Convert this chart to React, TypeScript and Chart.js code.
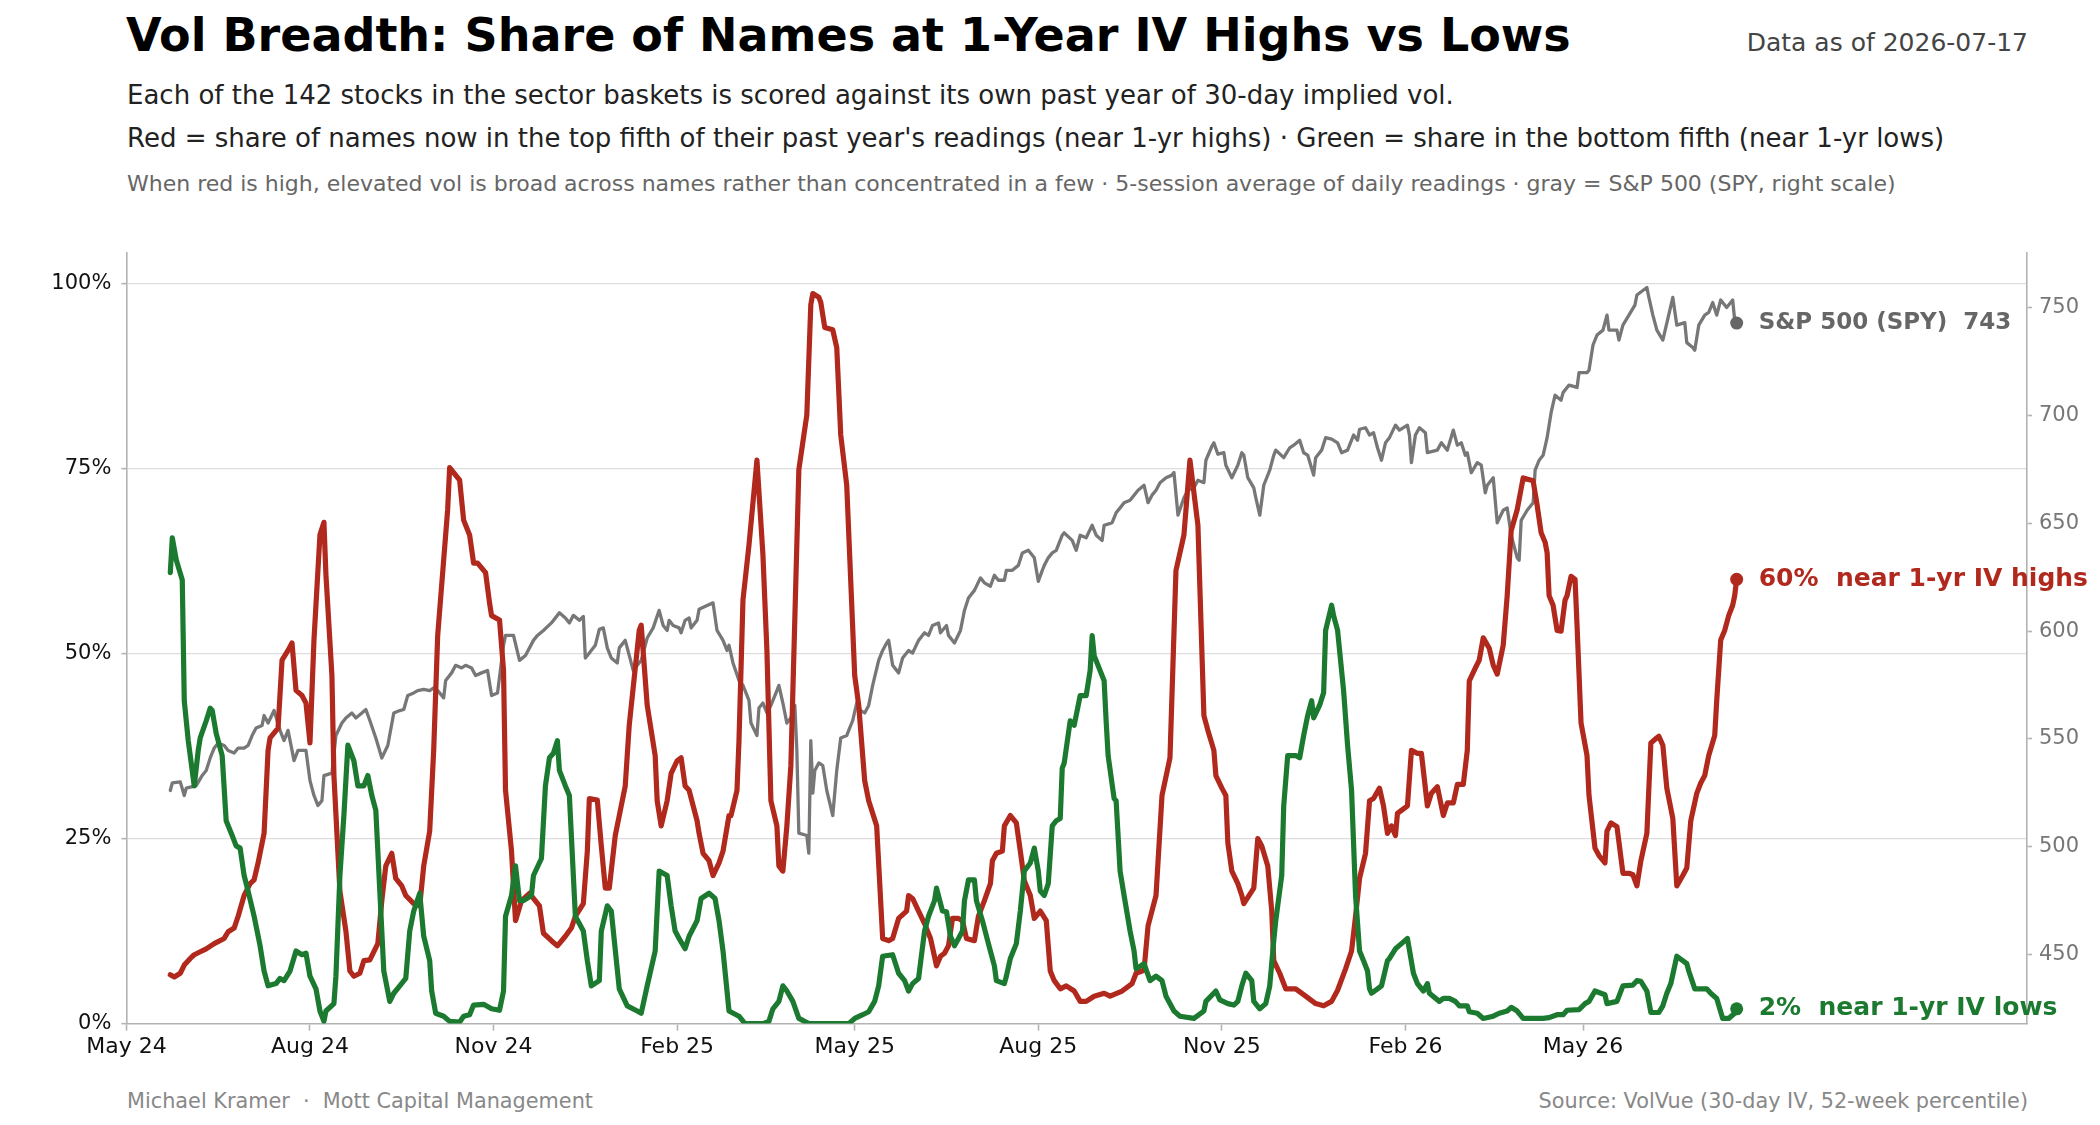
import React, { useEffect, useRef } from 'react';
import { Chart, registerables } from 'chart.js';

Chart.register(...registerables);

const FONT = '"DejaVu Sans", Verdana, sans-serif';
Chart.defaults.font.family = FONT;

const RED = '#b1281d';
const GREEN = '#1b7a2f';
const GRAY = '#777777';
const GRAY_TEXT = '#666666';
const AXIS = '#b3b3b3';
const GRID = '#dddddd';

// x = days since 2024-05-01
const monthTickDays = [0, 92, 184, 276, 365, 457, 549, 641, 730];
const monthTickLabels = ['May 24', 'Aug 24', 'Nov 24', 'Feb 25', 'May 25', 'Aug 25', 'Nov 25', 'Feb 26', 'May 26'];
const pctTicks = [0, 25, 50, 75, 100];
const spyTicks = [450, 500, 550, 600, 650, 700, 750];

// share of names near 1-yr IV highs (%), 5-session avg
const highsShare: [number, number][] = [
  [22, 6.6], [24, 6.3], [27, 6.8], [29, 7.9], [32, 8.8], [34, 9.3], [37, 9.7], [40, 10.1], [44, 10.8],
  [49, 11.5], [51, 12.4], [54, 12.9], [56, 14.5], [59, 17.3], [62, 18.9], [64, 19.4], [66, 21.7],
  [69, 25.7], [71, 36.9], [72, 38.6], [76, 39.9], [78, 49.1], [81, 50.4], [83, 51.4], [85, 45],
  [88, 44.3], [90, 43.3], [92, 37.9], [94, 51.8], [97, 66], [99, 67.7], [100, 60.6], [103, 47],
  [104, 33.5], [107, 17.9], [110, 12.5], [112, 7.1], [114, 6.4], [117, 6.8], [119, 8.5], [122, 8.6],
  [126, 10.8], [128, 16.6], [130, 21.3], [133, 23], [135, 19.6], [138, 18.6], [140, 17.3], [144, 16.2],
  [147, 15.9], [149, 21.3], [152, 26], [154, 36.9], [156, 52.4], [159, 62.6], [161, 69.4], [162, 75.1],
  [167, 73.4], [169, 68], [172, 66], [174, 62.2], [176, 62.2], [180, 60.9], [182, 56.8], [183, 55.1],
  [187, 54.5], [189, 47.7], [190, 31.5], [193, 23.3], [195, 13.9], [198, 16.6], [202, 17.6], [207, 15.9],
  [209, 12.2], [213, 11.2], [216, 10.5], [220, 11.8], [223, 12.9], [225, 14.5], [229, 16.2], [231, 23.3],
  [232, 30.4], [236, 30.2], [238, 24], [240, 18.3], [242, 18.3], [245, 25.4], [250, 32.1], [252, 40.3],
  [257, 53.1], [258, 53.8], [261, 43], [265, 36.2], [266, 30.1], [268, 26.7], [271, 30.1], [273, 33.8],
  [276, 35.5], [278, 35.9], [280, 32.1], [282, 31.5], [286, 27.4], [287, 25.7], [289, 23], [292, 22],
  [294, 20], [297, 21.7], [299, 23.3], [302, 28.1], [303, 28.1], [306, 31.5], [307, 38.2], [309, 57.2],
  [312, 64.6], [316, 76.1], [319, 63.3], [321, 50.4], [323, 30.1], [326, 26.7], [327, 21.3], [329, 20.6],
  [331, 26.7], [333, 34.8], [337, 74.8], [341, 82.2], [343, 97.1], [344, 98.6], [347, 98.1], [348, 97.4],
  [350, 94], [354, 93.7], [356, 91.3], [358, 79.5], [361, 72.7], [365, 47], [367, 43], [370, 32.8],
  [372, 30.1], [376, 26.7], [379, 11.5], [382, 11.2], [384, 11.5], [387, 14.2], [391, 15.2], [392, 17.3],
  [394, 16.9], [397, 15.2], [400, 13.5], [403, 11.5], [406, 7.8], [408, 9.1], [410, 9.5], [412, 10.5],
  [414, 14.2], [417, 14.2], [419, 13.9], [421, 11.5], [425, 11.2], [427, 14.5], [430, 16.6], [433, 18.9],
  [434, 22], [436, 23], [439, 23.3], [440, 26.7], [443, 28.1], [446, 27.1], [448, 23.3], [450, 19.3],
  [453, 17.3], [455, 14.2], [458, 15.2], [461, 13.9], [463, 7.1], [465, 5.8], [468, 4.7], [471, 5.1],
  [475, 4.4], [478, 3], [481, 3], [485, 3.7], [490, 4.1], [493, 3.7], [499, 4.4], [504, 5.4], [506, 6.8],
  [510, 7.2], [512, 13.2], [516, 17.3], [519, 30.8], [523, 35.9], [526, 61.2], [530, 66], [533, 76.1],
  [537, 67.3], [540, 41.6], [542, 39.6], [545, 36.9], [546, 33.5], [549, 31.8], [551, 30.8], [552, 24.4],
  [554, 20.6], [557, 18.9], [559, 17.3], [560, 16.2], [565, 18.3], [567, 25], [569, 24], [572, 21.3],
  [574, 15.2], [575, 8.5], [578, 6.8], [581, 4.7], [586, 4.7], [591, 3.7], [596, 2.7], [600, 2.4],
  [604, 3], [607, 4.5], [611, 7.4], [614, 9.8], [616, 14.5], [618, 19.6], [621, 23], [623, 30.1],
  [625, 30.4], [628, 31.8], [630, 29.4], [632, 25.7], [634, 26.7], [636, 25.4], [637, 28.4], [642, 29.4],
  [644, 36.9], [647, 36.5], [649, 36.5], [652, 29.4], [654, 31.1], [657, 32], [660, 28.1], [662, 29.8],
  [665, 29.8], [667, 32.3], [670, 32.3], [672, 36.9], [673, 46.3], [676, 48], [678, 49.1], [680, 52.1],
  [683, 50.7], [685, 48.4], [687, 47.2], [690, 51.1], [692, 57.8], [694, 66.6], [697, 69.4], [700, 73.7],
  [705, 73.3], [707, 70], [709, 66.3], [711, 65], [712, 63.6], [713, 57.8], [715, 56.5], [717, 53.1],
  [719, 53], [721, 57.2], [722, 57.8], [724, 60.4], [726, 60], [727, 53.8], [729, 40.6], [732, 36.2],
  [733, 30.8], [736, 23.7], [738, 22.7], [741, 21.7], [742, 26], [744, 27.1], [747, 26.6], [750, 20.3],
  [753, 20.3], [755, 20.1], [757, 18.6], [759, 22], [762, 25.7], [764, 37.9], [767, 38.6], [768, 38.8],
  [770, 37.6], [772, 31.8], [775, 27.7], [777, 18.6], [780, 20], [782, 21], [784, 27.4], [787, 31.1],
  [789, 32.5], [791, 33.5], [793, 36.2], [796, 38.9], [797, 43.6], [799, 51.8], [801, 53.1], [803, 55.1],
  [805, 56.5], [806, 57.8], [807, 60],
];

// share of names near 1-yr IV lows (%), 5-session avg
const lowsShare: [number, number][] = [
  [22, 60.9], [23, 65.6], [25, 62.6], [28, 59.9], [29, 43.6], [31, 38.2], [34, 32.1], [36, 36.9],
  [37, 38.6], [40, 40.9], [42, 42.6], [43, 42.3], [45, 39.2], [48, 36.2], [50, 27.4], [53, 25.4],
  [55, 24], [57, 23.7], [59, 20], [61, 17.9], [64, 14.5], [67, 10.5], [69, 7.1], [71, 5.1], [75, 5.4],
  [77, 6.1], [79, 5.8], [82, 7.1], [85, 9.8], [88, 9.3], [90, 9.5], [92, 6.4], [95, 4.7], [97, 1.7],
  [99, 0.3], [100, 1.7], [104, 2.7], [105, 6.4], [107, 20], [109, 28.1], [111, 37.6], [114, 35.5],
  [116, 32.1], [119, 32.1], [121, 33.5], [123, 30.8], [125, 28.8], [127, 17.9], [129, 7.1], [132, 3],
  [134, 4.1], [137, 5.1], [140, 6.1], [142, 12.5], [144, 15.2], [147, 17.6], [149, 11.8], [152, 8.5],
  [153, 4.4], [155, 1.4], [159, 1], [162, 0.3], [167, 0.2], [169, 1], [172, 1.2], [174, 2.5], [179, 2.6],
  [183, 2], [187, 1.8], [189, 4.4], [190, 14.5], [193, 17.3], [195, 21.3], [197, 16.6], [199, 16.6],
  [203, 17.3], [204, 20], [208, 22.3], [210, 32.1], [212, 35.9], [214, 36.5], [216, 38.2], [217, 34.2],
  [220, 32.1], [222, 30.8], [225, 14.5], [229, 12.5], [231, 8.5], [233, 5.1], [237, 5.8], [238, 12.5],
  [241, 15.9], [243, 15.2], [247, 4.7], [251, 2.4], [256, 1.7], [258, 1.4], [261, 5.1], [265, 9.8],
  [267, 20.6], [271, 20], [273, 15.9], [275, 12.5], [277, 11.5], [280, 10.1], [282, 11.8], [286, 13.9],
  [288, 16.9], [292, 17.6], [295, 16.9], [297, 13.9], [299, 9.8], [302, 1.7], [307, 1], [310, 0],
  [319, 0], [322, 0.3], [324, 2], [327, 3], [329, 5.1], [331, 4.4], [334, 3], [337, 0.7], [342, 0],
  [362, 0], [365, 0.7], [369, 1.2], [372, 1.6], [375, 3], [377, 5.1], [379, 9.1], [384, 9.3], [387, 6.8],
  [390, 5.8], [392, 4.4], [394, 5.4], [397, 6.1], [400, 12.5], [402, 14.5], [405, 16.6], [406, 18.3],
  [409, 15.2], [411, 15.1], [413, 11.8], [415, 10.5], [417, 11.5], [419, 12.5], [420, 16.6], [422, 19.4],
  [425, 19.4], [426, 16.6], [429, 13.9], [432, 10.8], [435, 7.8], [436, 5.8], [440, 5.4], [441, 6.4],
  [443, 8.8], [446, 10.8], [448, 15.2], [450, 20.6], [453, 21.7], [455, 23.7], [457, 20.6], [458, 17.9],
  [460, 17.3], [462, 18.9], [464, 26.7], [466, 27.4], [468, 27.7], [469, 34.5], [470, 35.2], [473, 40.9],
  [475, 40.3], [478, 44.3], [481, 44.3], [483, 47.7], [484, 52.4], [485, 49.7], [490, 46.3], [491, 40.9],
  [492, 36.2], [495, 30.4], [496, 30.1], [498, 20.6], [500, 17.3], [503, 12.5], [505, 9.8], [506, 7.4],
  [510, 8.1], [513, 5.8], [516, 6.4], [519, 5.8], [521, 3.7], [525, 1.7], [528, 1], [535, 0.7], [540, 1.7],
  [541, 3], [546, 4.4], [548, 3.2], [552, 2.7], [555, 2.5], [557, 3], [559, 5.1], [561, 6.8], [564, 5.8],
  [565, 3], [568, 2], [571, 2.7], [573, 5.1], [575, 11.2], [576, 13.9], [579, 20], [580, 29.4], [582, 36.2],
  [586, 36.2], [588, 35.9], [590, 38.9], [592, 41.6], [594, 43.6], [595, 41.3], [598, 43], [600, 44.7],
  [601, 53.1], [604, 56.5], [605, 55.1], [607, 53.1], [610, 45], [612, 37.6], [614, 31.5], [616, 17.3],
  [618, 9.8], [620, 8.5], [622, 7.1], [623, 4.7], [624, 4.1], [627, 4.7], [629, 5.1], [632, 8.5], [633, 8.8],
  [636, 10.1], [639, 10.8], [642, 11.5], [645, 6.8], [647, 5.4], [650, 4.4], [652, 5.4], [653, 4.1],
  [658, 3], [660, 3.4], [663, 3.4], [666, 3], [668, 2.4], [672, 2.4], [673, 1.6], [677, 1.4], [680, 0.7],
  [685, 1], [688, 1.4], [692, 1.7], [694, 2.2], [697, 1.7], [700, 0.7], [703, 0.7], [710, 0.7], [713, 0.8],
  [717, 1.2], [720, 1.2], [722, 1.8], [728, 1.9], [731, 2.7], [733, 3], [736, 4.4], [741, 3.9], [742, 2.7],
  [747, 3], [750, 5.1], [755, 5.2], [757, 5.8], [759, 5.7], [762, 4.4], [764, 1.5], [768, 1.5], [770, 2.4],
  [772, 4.1], [774, 5.4], [777, 9.1], [782, 8.1], [783, 7.1], [786, 4.7], [792, 4.7], [794, 4.1], [797, 3.4],
  [800, 0.7], [803, 0.7], [806, 1.4], [807, 2],
];

// S&P 500 (SPY) close, right scale
const spyClose: [number, number][] = [
  [22, 526], [23, 529.5], [27, 530], [29, 523.7], [30, 527.1], [33, 527.8], [35, 528.3], [38, 533],
  [40, 535.3], [42, 541.1], [44, 545.7], [46, 548], [49, 546.9], [51, 544.6], [54, 543.4], [56, 545.7],
  [59, 545.7], [61, 546.9], [63, 551.5], [65, 555], [68, 556.2], [69, 560.8], [71, 557.3], [74, 563.1],
  [77, 553.9], [79, 549.2], [81, 553.9], [83, 544.6], [84, 539.9], [86, 544.6], [90, 544.6], [92, 530.6],
  [94, 523.7], [96, 519], [98, 521.3], [99, 532.9], [103, 534.1], [105, 551.5], [108, 557.3], [110, 559.7],
  [113, 562], [115, 559.7], [118, 562], [120, 563.6], [122, 558.5], [125, 550.4], [128, 541.1], [131, 546.9],
  [134, 562], [137, 563.1], [139, 563.6], [141, 570.1], [144, 571.3], [146, 572.4], [149, 572.9],
  [152, 572.4], [154, 573.6], [156, 572.4], [159, 569], [160, 577.1], [163, 580.6], [165, 584.1],
  [168, 582.9], [170, 584.1], [173, 582.9], [175, 579.4], [178, 580.6], [181, 581.7], [183, 570.1],
  [186, 571.3], [189, 593.4], [190, 598], [194, 598], [197, 586.4], [200, 588.7], [204, 595.7], [206, 598],
  [209, 600.3], [213, 603.8], [216, 607.3], [217, 608.5], [220, 606.1], [222, 603.8], [224, 607.3],
  [227, 605], [229, 606.8], [230, 587.5], [232, 589.8], [235, 593.4], [237, 600.8], [239, 601.5],
  [241, 592.2], [243, 587.5], [246, 585.2], [247, 592.2], [250, 595.7], [252, 588.7], [254, 581.7],
  [256, 584.1], [258, 586.4], [261, 596.8], [264, 601.5], [267, 609.6], [269, 602.6], [271, 600.3],
  [272, 605], [274, 602.6], [277, 601.5], [278, 599.2], [280, 605], [282, 606.1], [283, 601.5], [286, 605],
  [287, 610.1], [291, 611.9], [294, 613.1], [296, 600.3], [299, 595.7], [301, 591], [302, 593.4],
  [304, 585.2], [307, 577.1], [309, 574.8], [312, 567.8], [313, 557.3], [316, 551.5], [317, 564.3],
  [319, 566.6], [321, 562], [323, 565.5], [326, 572.4], [327, 574.8], [329, 566.6], [331, 557.3],
  [333, 559.7], [335, 565.5], [336, 544.6], [337, 506.2], [341, 505.1], [342, 496.9], [343, 549.2],
  [344, 524.8], [345, 535.3], [347, 538.8], [349, 537.6], [351, 526], [354, 514.4], [356, 535.3],
  [358, 550.4], [361, 551.5], [362, 553.9], [364, 558.5], [366, 566.6], [368, 563.1], [370, 562],
  [372, 565.5], [374, 574.8], [377, 586.4], [379, 591], [381, 594.5], [382, 595.7], [384, 584.1],
  [387, 580.6], [389, 587.5], [392, 591], [394, 589.8], [397, 595.7], [400, 599.2], [402, 598], [404, 602.6],
  [407, 603.8], [408, 599.2], [411, 602.6], [412, 598], [415, 594.5], [418, 600.3], [420, 609.6],
  [422, 615.4], [425, 618.9], [428, 624.7], [430, 622.4], [433, 620.8], [435, 625.9], [437, 623.6],
  [440, 623.6], [441, 628.2], [444, 628.2], [447, 630.5], [449, 636.3], [452, 637.5], [455, 634],
  [457, 623.1], [459, 628.2], [460, 630.5], [462, 634], [464, 636.3], [466, 637.5], [469, 644.5],
  [470, 645.6], [474, 642.1], [476, 637.5], [478, 644.5], [481, 643.3], [484, 649.1], [486, 644.5],
  [489, 642.1], [490, 649.1], [494, 650.3], [496, 654.9], [498, 657.2], [500, 659.6], [503, 660.7],
  [505, 663.1], [507, 665.4], [510, 667.7], [512, 659.6], [514, 663.1], [516, 665.4], [518, 668.9],
  [521, 671.2], [524, 672.4], [525, 673.6], [527, 653.8], [530, 661.9], [532, 665.4], [535, 666.5],
  [537, 670], [540, 668.9], [541, 679.3], [544, 685.8], [545, 687.4], [547, 682.1], [550, 682.8],
  [551, 677], [554, 671.2], [557, 677], [559, 682.8], [560, 681.7], [562, 671.2], [565, 666.5],
  [566, 661.9], [568, 653.8], [570, 667.7], [573, 674.7], [575, 681.6], [576, 684], [580, 680.5],
  [583, 685.1], [585, 686.3], [588, 688.6], [590, 682.8], [592, 681.7], [595, 672.4], [596, 680.5],
  [599, 684], [601, 689.8], [604, 689.1], [607, 687.4], [609, 682.8], [612, 684], [615, 691], [617, 688.6],
  [618, 693.7], [621, 694.4], [623, 691], [625, 692.1], [627, 685.1], [629, 679.3], [631, 687.4],
  [633, 689.8], [636, 695.6], [638, 693.3], [642, 695.6], [643, 691], [644, 678.2], [646, 691],
  [648, 694.4], [651, 692.1], [652, 682.8], [657, 684], [659, 687.4], [661, 685.1], [662, 684],
  [665, 693.3], [667, 686.3], [669, 687.4], [671, 681.6], [672, 682.8], [674, 673.5], [677, 678.2],
  [679, 677], [681, 664.2], [682, 667.7], [685, 671.2], [686, 660.7], [687, 650.3], [690, 656.1],
  [692, 657.2], [694, 644.5], [697, 634], [698, 632.9], [699, 651.4], [702, 656.1], [705, 659.6],
  [706, 674.7], [708, 679.3], [710, 681.6], [712, 689.8], [714, 701.4], [716, 709.5], [719, 707.2],
  [720, 710.7], [723, 714.2], [727, 713.1], [728, 720], [732, 720], [733, 721.1], [735, 732.8],
  [737, 737.4], [740, 739.7], [742, 746.7], [743, 739.7], [747, 739.7], [748, 735.1], [750, 742],
  [753, 746.7], [756, 751.3], [757, 756], [762, 759.5], [763, 754.9], [765, 746.7], [767, 739.7],
  [770, 735.1], [775, 754.9], [777, 742], [781, 743.2], [782, 733.9], [785, 731.6], [786, 730.4],
  [788, 742], [791, 746.7], [793, 747.9], [795, 752.5], [797, 746.7], [799, 753.7], [802, 750.2],
  [805, 753.7], [806, 744.4], [807, 743],
];

const toPoints = (rows: [number, number][]) => rows.map(([x, y]) => ({ x, y }));

// dot only on the latest reading
const lastDot = (rows: [number, number][]) => (c: any) => (c.dataIndex === rows.length - 1 ? 6.5 : 0);

// text next to each series' latest point
const endLabels = {
  id: 'endLabels',
  afterDatasetsDraw(chart: any) {
    const { ctx } = chart;
    ctx.save();
    ctx.textBaseline = 'middle';
    ctx.textAlign = 'left';
    chart.data.datasets.forEach((ds: any, i: number) => {
      const meta = chart.getDatasetMeta(i);
      const pt = meta.data[meta.data.length - 1];
      const last = ds.data[ds.data.length - 1].y;
      ctx.font = `bold ${ds.labelSize}px ${FONT}`;
      ctx.fillStyle = ds.labelColor;
      ctx.fillText(ds.endLabel(last), pt.x + 22, pt.y);
    });
    ctx.restore();
  },
};

const axisBorder = { display: true, color: AXIS, width: 1.6 };

const VolBreadthChart: React.FC = () => {
  const canvasRef = useRef<HTMLCanvasElement>(null);

  useEffect(() => {
    if (!canvasRef.current) return;
    const chart = new Chart(canvasRef.current, {
      type: 'line',
      data: {
        datasets: [
          {
            label: 'Near 1-yr IV lows',
            data: toPoints(lowsShare),
            yAxisID: 'y',
            borderColor: GREEN,
            backgroundColor: GREEN,
            borderWidth: 5.2,
            pointRadius: lastDot(lowsShare),
            pointBorderWidth: 0,
            order: 1,
            labelColor: GREEN,
            labelSize: 25,
            endLabel: (v: number) => `${Math.round(v)}%  near 1-yr IV lows`,
          } as any,
          {
            label: 'Near 1-yr IV highs',
            data: toPoints(highsShare),
            yAxisID: 'y',
            borderColor: RED,
            backgroundColor: RED,
            borderWidth: 5.2,
            pointRadius: lastDot(highsShare),
            pointBorderWidth: 0,
            order: 2,
            labelColor: RED,
            labelSize: 25,
            endLabel: (v: number) => `${Math.round(v)}%  near 1-yr IV highs`,
          } as any,
          {
            label: 'S&P 500 (SPY)',
            data: toPoints(spyClose),
            yAxisID: 'y2',
            borderColor: GRAY,
            backgroundColor: GRAY_TEXT,
            borderWidth: 3.3,
            pointRadius: lastDot(spyClose),
            pointBorderWidth: 0,
            order: 3,
            labelColor: GRAY_TEXT,
            labelSize: 23,
            endLabel: (v: number) => `S&P 500 (SPY)  ${Math.round(v)}`,
          } as any,
        ],
      },
      options: {
        responsive: false,
        animation: false,
        events: [],
        layout: { padding: { top: 52.8, left: 0, right: 0, bottom: 0 } },
        elements: { line: { tension: 0, borderJoinStyle: 'round', borderCapStyle: 'round' } },
        plugins: { legend: { display: false }, tooltip: { enabled: false } },
        scales: {
          x: {
            type: 'linear',
            min: 0,
            max: 952.5,
            afterBuildTicks: (s: any) => {
              s.ticks = monthTickDays.map((value) => ({ value }));
            },
            afterFit: (s: any) => {
              s.height = 56.4;
            },
            ticks: {
              autoSkip: false,
              maxRotation: 0,
              color: '#111',
              font: { size: 22 },
              padding: 3,
              callback: (v: any) => monthTickLabels[monthTickDays.indexOf(Number(v))] ?? '',
            },
            grid: { drawOnChartArea: false, tickLength: 7, tickColor: AXIS, tickWidth: 1.6 },
            border: axisBorder,
          },
          y: {
            type: 'linear',
            position: 'left',
            min: 0,
            max: 104.1,
            afterBuildTicks: (s: any) => {
              s.ticks = pctTicks.map((value) => ({ value }));
            },
            afterFit: (s: any) => {
              s.width = 126.4;
            },
            ticks: { color: '#111', font: { size: 21 }, padding: 10, callback: (v: any) => `${v}%` },
            grid: {
              color: (c: any) => (c.tick && c.tick.value === 0 ? 'rgba(0,0,0,0)' : GRID),
              lineWidth: 1.3,
              tickLength: 5,
              tickColor: AXIS,
              tickWidth: 1.6,
            },
            border: axisBorder,
          },
          y2: {
            type: 'linear',
            position: 'right',
            min: 417.8,
            max: 775.6,
            afterBuildTicks: (s: any) => {
              s.ticks = spyTicks.map((value) => ({ value }));
            },
            afterFit: (s: any) => {
              s.width = 73;
            },
            ticks: { color: '#777', font: { size: 21 }, padding: 7 },
            grid: { drawOnChartArea: false, tickLength: 5, tickColor: AXIS, tickWidth: 1.6 },
            border: axisBorder,
          },
        },
      } as any,
      plugins: [endLabels as any],
    });
    return () => chart.destroy();
  }, []);

  return (
    <canvas
      ref={canvasRef}
      width={2100}
      height={880}
      style={{ position: 'absolute', left: 0, top: 200, width: 2100, height: 880 }}
    />
  );
};

const text = (top: number, size: number, color: string, extra: React.CSSProperties = {}): React.CSSProperties => ({
  position: 'absolute',
  top,
  fontSize: size,
  lineHeight: `${size}px`,
  color,
  whiteSpace: 'pre',
  fontFamily: FONT,
  ...extra,
});

export default function App() {
  return (
    <div style={{ position: 'absolute', left: 0, top: 0, width: 2100, height: 1125, background: '#fff', overflow: 'hidden' }}>
      <VolBreadthChart />
      <div style={text(11.8, 46, '#000', { left: 126, fontWeight: 'bold' })}>
        Vol Breadth: Share of Names at 1-Year IV Highs vs Lows
      </div>
      <div style={text(29.5, 25, '#444', { right: 72 })}>Data as of 2026-07-17</div>
      <div style={text(82.3, 26, '#222', { left: 127 })}>
        Each of the 142 stocks in the sector baskets is scored against its own past year of 30-day implied vol.
      </div>
      <div style={text(124.7, 26, '#222', { left: 127 })}>
        Red = share of names now in the top fifth of their past year's readings (near 1-yr highs) · Green = share in the bottom fifth (near 1-yr lows)
      </div>
      <div style={text(172.5, 22, '#666', { left: 127 })}>
        When red is high, elevated vol is broad across names rather than concentrated in a few · 5-session average of daily readings · gray = S&P 500 (SPY, right scale)
      </div>
      <div style={text(1091, 20.8, '#888', { left: 127 })}>Michael Kramer  ·  Mott Capital Management</div>
      <div style={text(1091, 20.8, '#888', { right: 72 })}>Source: VolVue (30-day IV, 52-week percentile)</div>
    </div>
  );
}
